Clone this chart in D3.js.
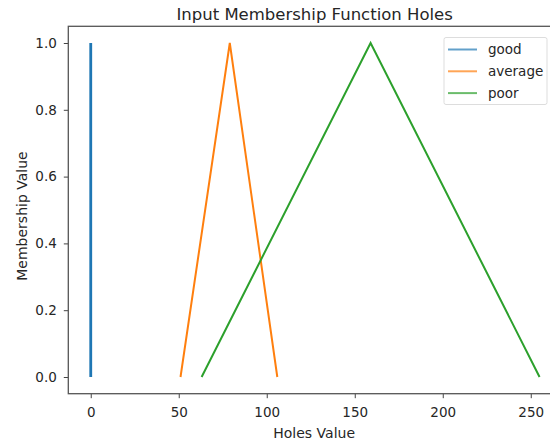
<!DOCTYPE html>
<html><head><meta charset="utf-8">
<script src="https://cdn.jsdelivr.net/npm/d3@7"></script>
<style>body{margin:0;background:#fff;} text{font-family:"DejaVu Sans",sans-serif;fill:#262626;}</style>
</head><body>
<svg id="chart" width="550" height="440"></svg>
<script>
const seriesNames = ["good", "average", "poor"];
const seriesColors = ["#1f77b4", "#ff7f0e", "#2ca02c"];
const goodX = [0, 0, 0];
const goodY = [0, 1, 0];
const averageX = [51, 79, 106];
const averageY = [0, 1, 0];
const poorX = [63, 159, 255];
const poorY = [0, 1, 0];
const xTicks = [0, 50, 100, 150, 200, 250];
const yTicks = [0.0, 0.2, 0.4, 0.6, 0.8, 1.0];

(function () {
const svg = d3.select("#chart");
const pL = 68.3, pR = 562, pT = 26.3, pB = 393.7;
const xs = d3.scaleLinear().domain([-12.75, 267.75]).range([pL, pR]);
const ys = d3.scaleLinear().domain([-0.05, 1.05]).range([pB, pT]);

const series = [
  {name: seriesNames[0], xs: goodX, ys: goodY, color: seriesColors[0], w: 2.8},
  {name: seriesNames[1], xs: averageX, ys: averageY, color: seriesColors[1], w: 2},
  {name: seriesNames[2], xs: poorX, ys: poorY, color: seriesColors[2], w: 2}
];

const line = d3.line().x(d => xs(d[0])).y(d => ys(d[1]));
series.forEach(s => {
  svg.append("path")
    .attr("d", line(s.xs.map((v, i) => [v, s.ys[i]])))
    .attr("fill", "none").attr("stroke", s.color).attr("stroke-width", s.w)
    .attr("stroke-linejoin", "miter");
});

const xAxis = d3.axisBottom(xs).tickValues(xTicks).tickSize(4.5).tickPadding(9.5).tickFormat(d3.format("d"));
const yAxis = d3.axisLeft(ys).tickValues(yTicks).tickSize(4.5).tickPadding(7).tickFormat(d3.format(".1f"));
const gx = svg.append("g").attr("transform", `translate(0,${pB})`).call(xAxis);
const gy = svg.append("g").attr("transform", `translate(${pL},0)`).call(yAxis);
[gx, gy].forEach(g => {
  g.select(".domain").remove();
  g.selectAll(".tick line").attr("stroke", "#444").attr("stroke-width", 1);
  g.selectAll(".tick text").attr("font-size", 13.5).style("fill", "#262626")
    .attr("font-family", "DejaVu Sans");
});

svg.append("rect").attr("x", pL).attr("y", pT).attr("width", pR - pL).attr("height", pB - pT)
  .attr("fill", "none").attr("stroke", "#555").attr("stroke-width", 1.3);

svg.append("text").attr("x", (pL + pR) / 2 - 0.5).attr("y", 19.5).attr("text-anchor", "middle")
  .attr("font-size", 16.5).text("Input Membership Function Holes");
svg.append("text").attr("x", (pL + pR) / 2 - 1).attr("y", 438).attr("text-anchor", "middle")
  .attr("font-size", 14).text("Holes Value");
svg.append("text").attr("transform", `translate(27,${(pT + pB) / 2 + 6}) rotate(-90)`).attr("text-anchor", "middle")
  .attr("font-size", 14).text("Membership Value");

const lg = svg.append("g");
lg.append("rect").attr("x", 444).attr("y", 37.5).attr("width", 103).attr("height", 67).attr("rx", 2)
  .attr("fill", "#fff").attr("fill-opacity", 0.8).attr("stroke", "#ddd").attr("stroke-width", 1);
series.forEach((s, i) => {
  const yy = 49.5 + i * 21.8;
  lg.append("line").attr("x1", 448).attr("x2", 477).attr("y1", yy).attr("y2", yy)
    .attr("stroke", s.color).attr("stroke-width", 2).attr("stroke-opacity", 0.7);
  lg.append("text").attr("x", 488).attr("y", yy + 4.8).attr("font-size", 13.5).text(s.name);
});
})();
</script>
</body></html>
